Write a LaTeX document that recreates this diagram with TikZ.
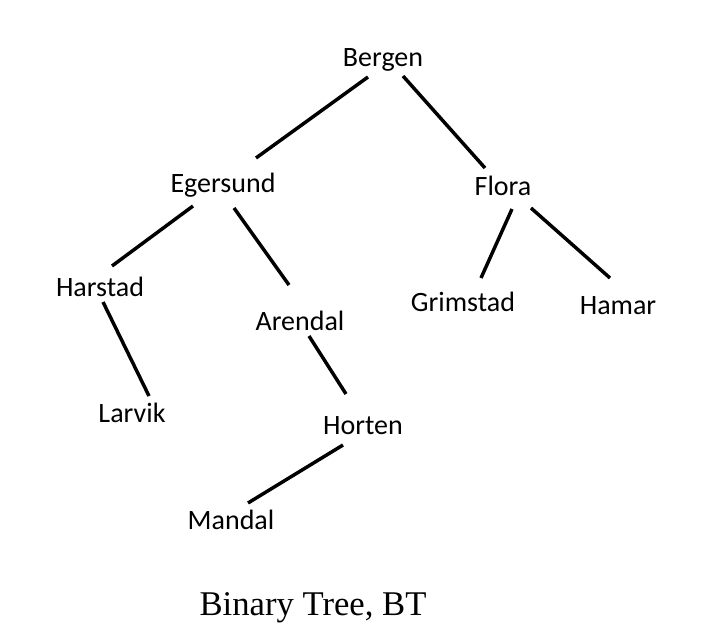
\documentclass[tikz,border=0pt]{standalone}
\usepackage{fontspec}
\setmainfont{Carlito}
\newfontfamily\capfont{Liberation Serif}
\usetikzlibrary{positioning}
\begin{document}
\begin{tikzpicture}[x=0.75pt,y=-0.75pt,
  city/.style={anchor=base,font=\fontsize{21}{25}\selectfont,inner sep=3pt},
  link/.style={line width=2.6pt}]
\useasboundingbox (0,0) rectangle (702,632);
% the cities
\node[city] (ber) at (383,66){Bergen};
\node[city] (ege) at (223,192){Egersund};
\node[city] (flo) at (503,195){Flora};
\node[city] (har) at (100,296){Harstad};
\node[city] (are) at (300,330){Arendal};
\node[city] (gri) at (463,311){Grimstad};
\node[city] (ham) at (618,314){Hamar};
\node[city] (lar) at (132,422){Larvik};
\node[city] (hor) at (363,434){Horten};
\node[city] (man) at (231,529){Mandal};
% the links, measured from the base of each name
\draw[link] ([shift={(-15,11)}]ber.base)--([shift={(33,-34)}]ege.base);
\draw[link] ([shift={(20,10)}]ber.base)--([shift={(-18,-27)}]flo.base);
\draw[link] ([shift={(-30,14)}]ege.base)--([shift={(12,-30)}]har.base);
\draw[link] ([shift={(11,16)}]ege.base)--([shift={(-11,-45)}]are.base);
\draw[link] ([shift={(9,14)}]flo.base)--([shift={(18,-33)}]gri.base);
\draw[link] ([shift={(28,13)}]flo.base)--([shift={(-8,-36)}]ham.base);
\draw[link] ([shift={(3,6)}]har.base)--([shift={(17,-26)}]lar.base);
\draw[link] ([shift={(9,6)}]are.base)--([shift={(-17,-40)}]hor.base);
\draw[link] ([shift={(-20,11)}]hor.base)--([shift={(17,-26)}]man.base);
\node[anchor=base,font=\capfont\fontsize{26}{30}\selectfont] (cap) at (313,615){Binary Tree, BT};
\end{tikzpicture}
\end{document}
